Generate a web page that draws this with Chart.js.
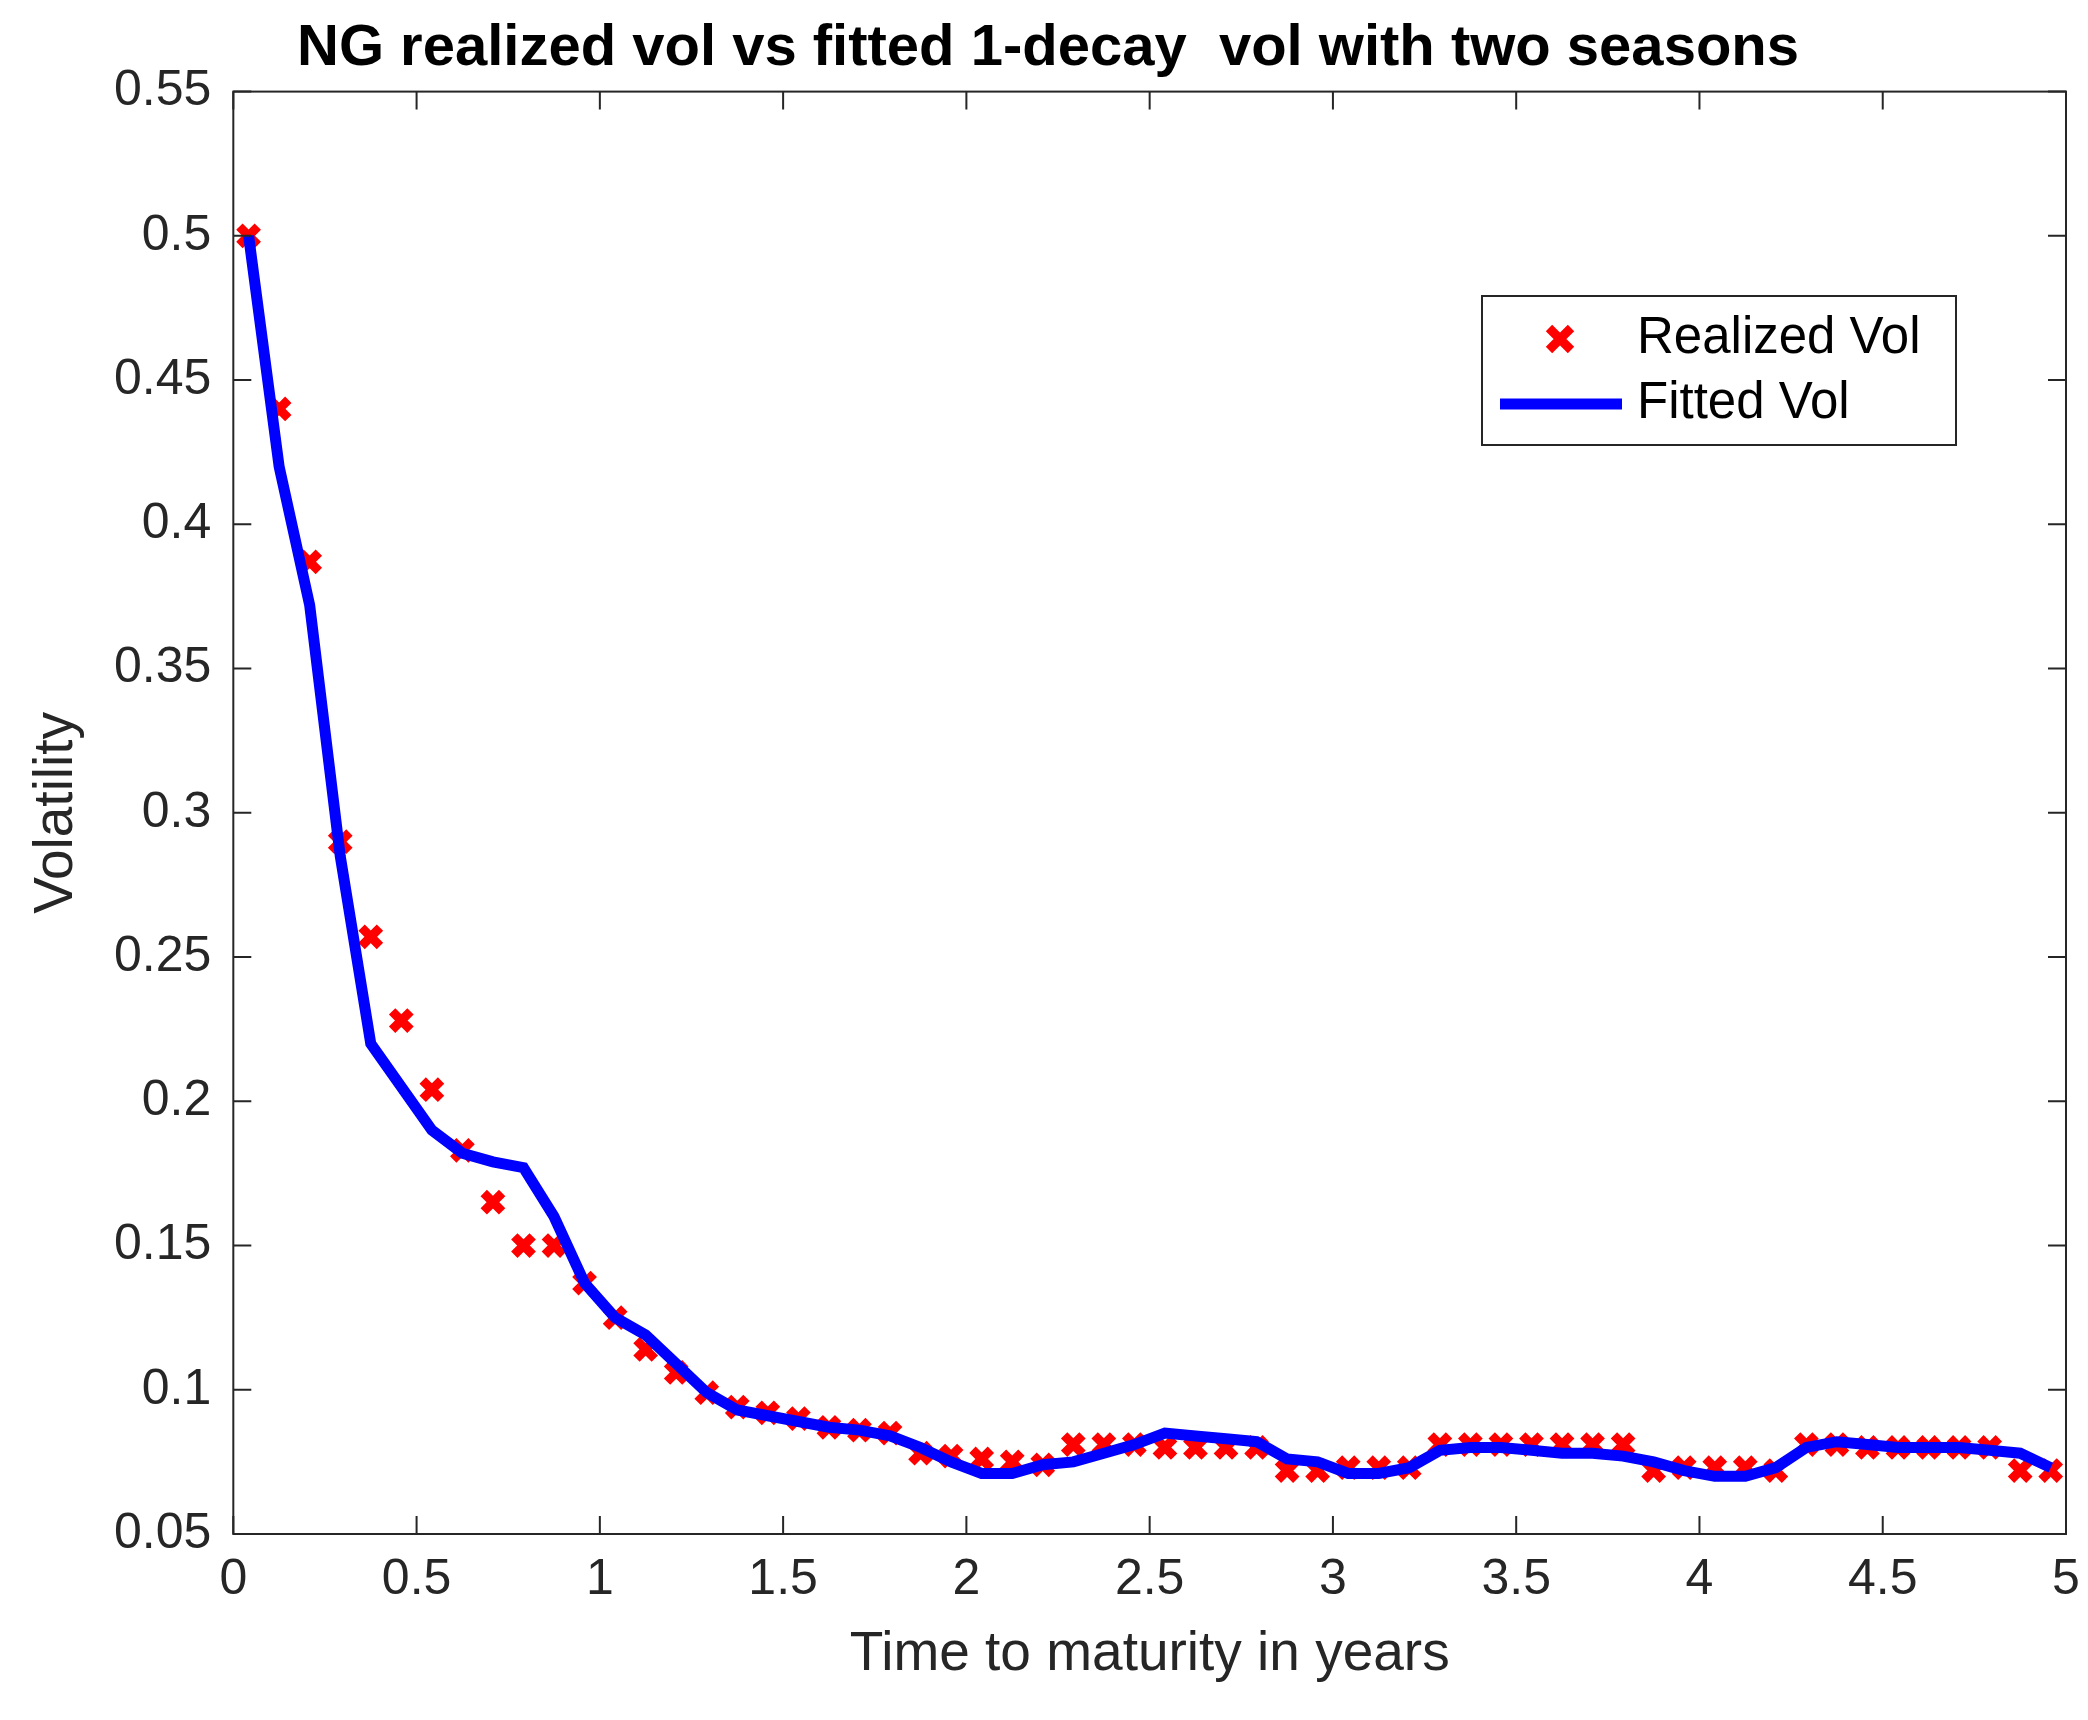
<!DOCTYPE html>
<html>
<head>
<meta charset="utf-8">
<script src="https://cdn.jsdelivr.net/npm/chart.js@4/dist/chart.umd.min.js"></script>
<style>
  body { margin: 0; background: #fff; }
  canvas { display: block; }
</style>
</head>
<body>
<canvas id="vol-chart" width="2088" height="1720"></canvas>
<script>
// maturities in years (mid month)
const maturities = [];
for (let i = 0; i < 60; i++) maturities.push(+((i + 0.5) / 12).toFixed(4));

const realized_vol = [
  0.500, 0.440, 0.387, 0.290, 0.257, 0.228, 0.204, 0.183, 0.165, 0.150, 0.150, 0.137,
  0.125, 0.114, 0.106, 0.099, 0.094, 0.092, 0.090, 0.087, 0.086, 0.085, 0.078, 0.077,
  0.076, 0.075, 0.074, 0.081, 0.081, 0.081, 0.080, 0.080, 0.080, 0.080, 0.072, 0.072,
  0.073, 0.073, 0.073, 0.081, 0.081, 0.081, 0.081, 0.081, 0.081, 0.081, 0.072, 0.073,
  0.073, 0.073, 0.072, 0.081, 0.081, 0.080, 0.080, 0.080, 0.080, 0.080, 0.072, 0.072
];
const fitted_vol = [
  0.500, 0.420, 0.372, 0.285, 0.220, 0.205, 0.190, 0.182, 0.179, 0.177, 0.160, 0.137,
  0.125, 0.119, 0.109, 0.099, 0.093, 0.091, 0.089, 0.087, 0.086, 0.084, 0.080, 0.075,
  0.071, 0.071, 0.074, 0.075, 0.078, 0.081, 0.085, 0.084, 0.083, 0.082, 0.076, 0.075,
  0.071, 0.071, 0.073, 0.079, 0.080, 0.080, 0.079, 0.078, 0.078, 0.077, 0.075, 0.072,
  0.070, 0.070, 0.073, 0.080, 0.082, 0.081, 0.080, 0.080, 0.080, 0.079, 0.078, 0.073
];

const font_family = "'Liberation Sans', Arial, sans-serif";
// matlab style tick text: 0.5 not 0.50, 5 not 5.0
const short_num = v => String(+v.toFixed(2));

// matlab style box, inner ticks and legend
const matlab_box = {
  id: 'matlabBox',
  afterDraw(chart) {
    const ctx = chart.ctx;
    const a = chart.chartArea;
    const xs = chart.scales.x, ys = chart.scales.y;
    ctx.save();
    ctx.strokeStyle = '#262626';
    ctx.lineWidth = 2;
    ctx.strokeRect(a.left, a.top, a.right - a.left, a.bottom - a.top);
    const t = 18;
    ctx.beginPath();
    xs.ticks.forEach(tk => {
      const px = xs.getPixelForValue(tk.value);
      ctx.moveTo(px, a.bottom); ctx.lineTo(px, a.bottom - t);
      ctx.moveTo(px, a.top); ctx.lineTo(px, a.top + t);
    });
    ys.ticks.forEach(tk => {
      const py = ys.getPixelForValue(tk.value);
      ctx.moveTo(a.left, py); ctx.lineTo(a.left + t, py);
      ctx.moveTo(a.right, py); ctx.lineTo(a.right - t, py);
    });
    ctx.stroke();

    // legend
    const lx = 1482, ly = 296, lw = 474, lh = 149;
    ctx.fillStyle = '#fff';
    ctx.fillRect(lx, ly, lw, lh);
    ctx.lineWidth = 2;
    ctx.strokeRect(lx, ly, lw, lh);
    ctx.font = '51px ' + font_family;
    ctx.textBaseline = 'middle';
    ctx.fillStyle = '#000';
    const ds = chart.data.datasets;
    const cx = 1560, cy = ly + 43;
    ctx.strokeStyle = '#ff0000';
    ctx.lineWidth = 9;
    ctx.beginPath();
    ctx.moveTo(cx - 11, cy - 11); ctx.lineTo(cx + 11, cy + 11);
    ctx.moveTo(cx + 11, cy - 11); ctx.lineTo(cx - 11, cy + 11);
    ctx.stroke();
    ctx.fillText(ds[0].label, 1637, cy);
    const ly2 = ly + 108;
    ctx.strokeStyle = '#0000ff';
    ctx.lineWidth = 11;
    ctx.beginPath();
    ctx.moveTo(1500, ly2); ctx.lineTo(1622, ly2);
    ctx.stroke();
    ctx.fillText(ds[1].label, 1637, ly2);
    ctx.restore();
  }
};

new Chart(document.getElementById('vol-chart').getContext('2d'), {
  type: 'scatter',
  data: {
    datasets: [{
      label: 'Realized Vol',
      data: maturities.map((m, i) => ({ x: m, y: realized_vol[i] })),
      pointStyle: 'crossRot',
      pointRadius: 13,
      borderWidth: 9,
      borderColor: '#ff0000',
      showLine: false,
      order: 2
    }, {
      label: 'Fitted Vol',
      data: maturities.map((m, i) => ({ x: m, y: fitted_vol[i] })),
      showLine: true,
      borderColor: '#0000ff',
      borderWidth: 11,
      pointRadius: 0,
      order: 1
    }]
  },
  plugins: [matlab_box],
  options: {
    responsive: false,
    animation: false,
    layout: { padding: { left: 20, right: 12, top: 0, bottom: 28 } },
    plugins: {
      legend: { display: false },
      tooltip: { enabled: false },
      title: {
        display: true,
        text: 'NG realized vol vs fitted 1-decay  vol with two seasons',
        color: '#000',
        font: { family: font_family, size: 58, weight: 'bold' },
        padding: { top: 14, bottom: 8 }
      }
    },
    scales: {
      x: {
        type: 'linear', min: 0, max: 5,
        ticks: { stepSize: 0.5, color: '#262626', font: { family: font_family, size: 50 }, padding: 8,
                 callback: v => short_num(v) },
        grid: { display: false },
        border: { display: false },
        title: { display: true, text: 'Time to maturity in years', color: '#262626',
                 font: { family: font_family, size: 55 }, padding: { top: 4 } }
      },
      y: {
        min: 0.05, max: 0.55,
        ticks: { stepSize: 0.05, color: '#262626', font: { family: font_family, size: 50 }, padding: 14,
                 callback: v => short_num(v) },
        grid: { display: false },
        border: { display: false },
        title: { display: true, text: 'Volatility', color: '#262626',
                 font: { family: font_family, size: 55 }, padding: { bottom: 10 } }
      }
    }
  }
});
</script>
</body>
</html>
